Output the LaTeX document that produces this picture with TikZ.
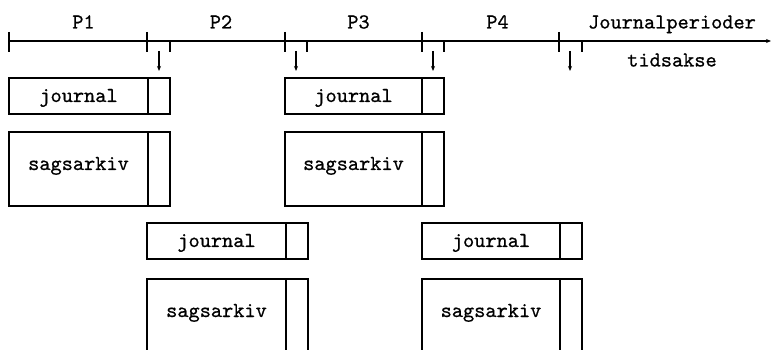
\documentclass[tikz,border=0pt]{standalone}
\usepackage{fontspec}
\newfontfamily\typew[FakeBold=0.7]{lmmono10-regular.otf}
\usetikzlibrary{arrows.meta}
\begin{document}
\begin{tikzpicture}[x=1pt,y=-1pt,line width=1.1pt,
  lbl/.style={font=\typew\fontsize{21.3}{23}\selectfont,inner sep=0pt,anchor=base},
  tickmark/.style={line width=1.1pt},
  down/.style={-{Stealth[length=5pt,width=4pt]},line width=1.1pt}]
\useasboundingbox (0,0) rectangle (772,350);

% time axis with period boundaries
\coordinate (a0) at (9,41);
\coordinate (aend) at (771,41);
\draw[-{Stealth[length=5pt,width=4pt]}] (a0) -- (aend);
\foreach \x/\n in {9/t0,147/t1,285/t2,422/t3,559/t4}{
  \coordinate (\n) at (\x,41);
  \draw[tickmark] (\x,32) -- (\x,52);
}
% secondary ticks and hand-over arrows
\foreach \x/\n in {170/s1,307/s2,444/s3,582/s4}{
  \draw[tickmark] (\x,41) -- (\x,52);
}
\foreach \x/\n in {159/d1,296/d2,433/d3,570/d4}{
  \coordinate (\n top) at (\x,51);
  \coordinate (\n bot) at (\x,71);
  \draw[down] (\n top) -- (\n bot);
}

% period labels
\node[lbl] (p1) at (83.5,28.5) {P1};
\node[lbl] (p2) at (221,28.5) {P2};
\node[lbl] (p3) at (358.5,28.5) {P3};
\node[lbl] (p4) at (497.5,28.5) {P4};
\node[lbl] (jp) at (672,28.5) {Journalperioder};
\node[lbl] (ts) at (672,66.5) {tidsakse};

% journal boxes: left x, top y, right x
\foreach \l/\t/\r/\n in {9/78/170/j1,285/78/444/j3,147/223/308/j2,422/223/582/j4}{
  \draw (\l,\t) rectangle (\r,\t+36);
  \draw (\r-22,\t) -- (\r-22,\t+36);
  \node[lbl] (\n) at ({(\l+\r-22)/2},\t+24) {journal};
}
% archive boxes of the upper row (closed)
\foreach \l/\t/\r/\n in {9/132/170/a1,285/132/444/a3}{
  \draw (\l,\t) rectangle (\r,\t+74);
  \draw (\r-22,\t) -- (\r-22,\t+74);
  \node[lbl] (\n) at ({(\l+\r-22)/2},\t+38) {sagsarkiv};
}
% archive boxes of the lower row (running on downwards)
\foreach \l/\t/\r/\n in {147/279/308/a2,422/279/582/a4}{
  \draw (\l,352) -- (\l,\t) -- (\r,\t) -- (\r,352);
  \draw (\r-22,\t) -- (\r-22,352);
  \node[lbl] (\n) at ({(\l+\r-22)/2},\t+38) {sagsarkiv};
}
\end{tikzpicture}
\end{document}
